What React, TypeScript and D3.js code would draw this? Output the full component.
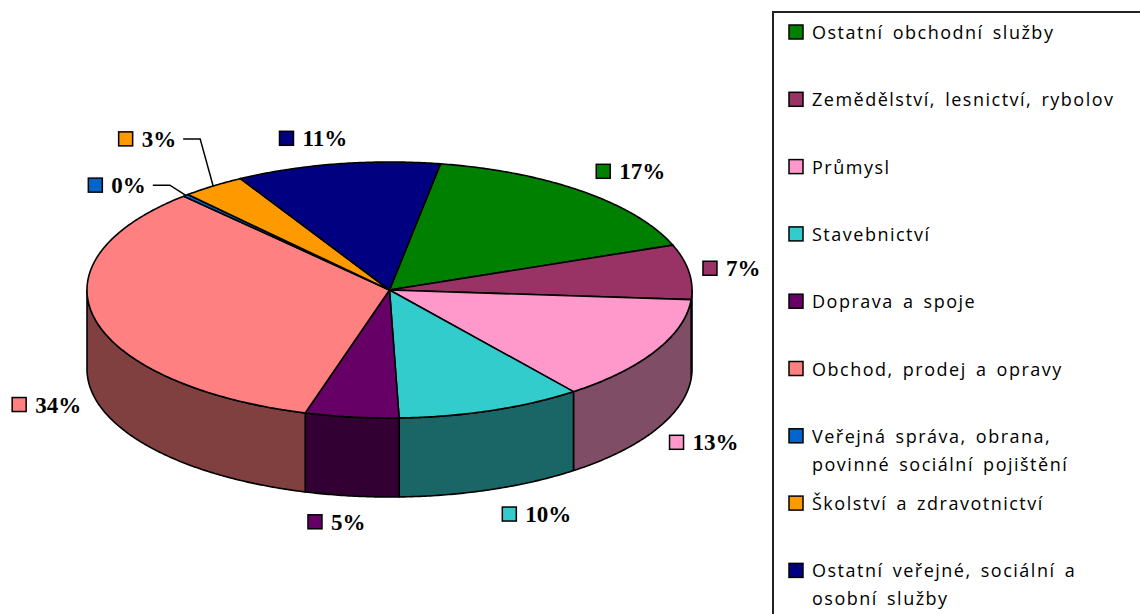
import React from "react";
import * as d3 from "d3";

// ---- data ----
const categories = [
  "Ostatní obchodní služby",
  "Zemědělství, lesnictví, rybolov",
  "Průmysl",
  "Stavebnictví",
  "Doprava a spoje",
  "Obchod, prodej a opravy",
  "Veřejná správa, obrana,\npovinné sociální pojištění",
  "Školství a zdravotnictví",
  "Ostatní veřejné, sociální a\nosobní služby",
];
const values = [16.6, 6.9, 13.4, 9.9, 5.0, 33.6, 0.3, 3.4, 10.9];
const colors = [
  "#008000",
  "#993366",
  "#FF99CC",
  "#33CCCC",
  "#660066",
  "#FF8080",
  "#0066CC",
  "#FF9900",
  "#000080",
];

// ---- layout ----
const W = 1140;
const H = 614;
const CX = 389.5;
const CY = 290;
const RX = 302.5;
const RY = 128;
const DEPTH = 79;
const START_DEG = 9.7;
const LABEL_FS = 23;
const LEG_FS = 18;
const LEG_LS = 1.5;
const LEG_WS = 3;
const LEG_X = 773;
const LEG_Y = 12;
const LEG_STEP = 67.3;
// labels that Excel moved out with a leader line (index -> shift in px)
const leaderShift: Record<number, [number, number]> = {
  6: [-26, 9],
  7: [-23, -26],
};

const pt = (a: number, dy = 0): [number, number] => [
  CX + RX * Math.sin(a),
  CY - RY * Math.cos(a) + dy,
];

function arcPoints(a0: number, a1: number, dy = 0): [number, number][] {
  const n = Math.max(2, Math.ceil(Math.abs(a1 - a0) / (Math.PI / 360)));
  const out: [number, number][] = [];
  for (let i = 0; i <= n; i++) out.push(pt(a0 + ((a1 - a0) * i) / n, dy));
  return out;
}

function darker(c: string) {
  const r = d3.rgb(c);
  return d3.rgb(r.r * 0.5, r.g * 0.5, r.b * 0.5).formatHex();
}

export default function App() {
  const pie = d3
    .pie<number>()
    .sort(null)
    .value((d) => d)
    .startAngle((START_DEG * Math.PI) / 180)
    .endAngle((START_DEG * Math.PI) / 180 + 2 * Math.PI);
  const arcs = pie(values);
  const line = d3.line();

  // walls (front half: angles between PI/2 and 3PI/2, modulo 2PI)
  const walls: { d: string; fill: string }[] = [];
  arcs.forEach((a, i) => {
    for (const off of [0, 2 * Math.PI]) {
      const s = Math.max(a.startAngle, Math.PI / 2 + off);
      const e = Math.min(a.endAngle, (3 * Math.PI) / 2 + off);
      if (e > s) {
        const top = arcPoints(s, e, 0);
        const bot = arcPoints(e, s, DEPTH);
        walls.push({ d: line([...top, ...bot])! + "Z", fill: darker(colors[i]) });
      }
    }
  });

  const tops = arcs.map((a, i) => ({
    d: line([[CX, CY], ...arcPoints(a.startAngle, a.endAngle)])! + "Z",
    fill: colors[i],
  }));

  // labels
  const labels = arcs.map((a, i) => {
    const mid = (a.startAngle + a.endAngle) / 2;
    const s = Math.sin(mid);
    const c = Math.cos(mid);
    const edge = pt(mid, c < 0 ? DEPTH : 0);
    const text = Math.round(values[i]) + "%";
    const digits = text.length - 1;
    const tw = LABEL_FS * (digits * 0.5 + 1.0);
    const w = 23 + tw;
    const hw = w / 2;
    const k = Math.max(-1, Math.min(1, s * 2.8));
    let x = edge[0] + k * (hw + 14);
    let y = edge[1] - c * 26;
    let leader: string | null = null;
    const sh = leaderShift[i];
    if (sh) {
      x += sh[0];
      y += sh[1];
      const lx = x + hw + 7;
      leader = line([
        [lx, y],
        [lx + 17, y],
        edge,
      ]);
    }
    return { x, y, hw, text, fill: colors[i], leader };
  });

  // legend
  const legend = categories.map((c, i) => ({
    lines: c.split("\n"),
    y: LEG_Y + 20 + i * LEG_STEP,
    fill: colors[i],
  }));

  return (
    <svg
      width={W}
      height={H}
      style={{ position: "absolute", left: 0, top: 0, background: "#fff" }}
    >
      <rect x={0} y={0} width={W} height={H} fill="#fff" />
      <g stroke="#000" strokeWidth={1.6} strokeLinejoin="round">
        {walls.map((w, i) => (
          <path key={"w" + i} d={w.d} fill={w.fill} />
        ))}
        {tops.map((t, i) => (
          <path key={"t" + i} d={t.d} fill={t.fill} />
        ))}
      </g>
      {labels.map((l, i) => (
        <g key={"l" + i}>
          {l.leader && (
            <path d={l.leader} fill="none" stroke="#000" strokeWidth={1.5} />
          )}
          <rect
            x={l.x - l.hw}
            y={l.y - 7}
            width={14}
            height={14}
            fill={l.fill}
            stroke="#000"
            strokeWidth={1.5}
          />
          <text
            x={l.x - l.hw + 23}
            y={l.y + 8}
            fontFamily='"Liberation Serif", "Times New Roman", serif'
            fontWeight="bold"
            fontSize={LABEL_FS}
            fill="#000"
          >
            {l.text}
          </text>
        </g>
      ))}
      <rect
        x={LEG_X}
        y={LEG_Y}
        width={W}
        height={H}
        fill="none"
        stroke="#222"
        strokeWidth={2}
      />
      {legend.map((lg, i) => (
        <g key={"lg" + i}>
          <rect
            x={789}
            y={lg.y - 7}
            width={14}
            height={14}
            fill={lg.fill}
            stroke="#000"
            strokeWidth={1.5}
          />
          {lg.lines.map((t, j) => (
            <text
              key={j}
              x={812}
              y={lg.y + 7 + j * 28}
              fontFamily='"Open Sans", sans-serif'
              fontSize={LEG_FS}
              letterSpacing={LEG_LS}
              wordSpacing={LEG_WS}
              fill="#000"
            >
              {t}
            </text>
          ))}
        </g>
      ))}
    </svg>
  );
}
